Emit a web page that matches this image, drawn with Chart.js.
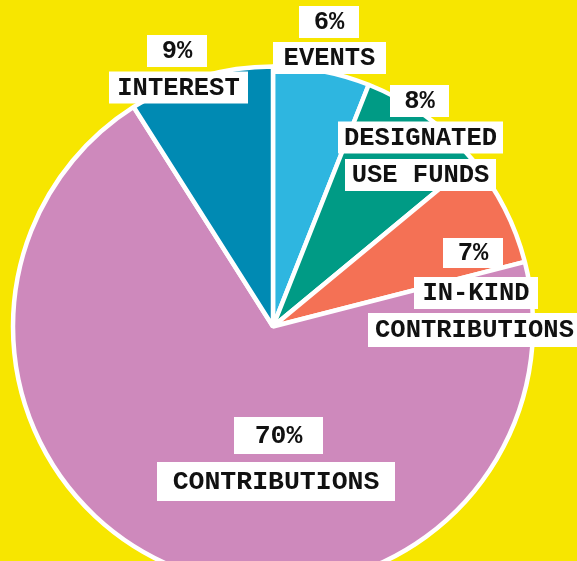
<!DOCTYPE html>
<html>
<head>
<meta charset="utf-8">
<script src="https://cdn.jsdelivr.net/npm/chart.js@4"></script>
<style>
  html, body { margin: 0; padding: 0; background: #F7E600; }
  #wrap { width: 577px; height: 561px; overflow: hidden; position: relative; background: #F7E600; }
  canvas { display: block; }
</style>
</head>
<body>
<div id="wrap"><canvas id="c" width="577" height="652"></canvas></div>
<script>
// ---- data ----
const categories = ["EVENTS", "DESIGNATED USE FUNDS", "IN-KIND CONTRIBUTIONS", "CONTRIBUTIONS", "INTEREST"];
const categoryLines = [["EVENTS"], ["DESIGNATED", "USE FUNDS"], ["IN-KIND", "CONTRIBUTIONS"], ["CONTRIBUTIONS"], ["INTEREST"]];
const values = [6, 8, 7, 70, 9];
const colors = ["#2EB6E0", "#009B85", "#F47155", "#CE89BC", "#008AB3"];

// ---- label layout (code-side positions) ----
const labelLayout = [
  { boxes: [ {x:329, y:22, w:60, h:32, size:25.5}, {x:329.5, y:58, w:113, h:32, size:25.5} ] },
  { boxes: [ {x:419.5, y:101, w:59, h:32, size:25.5}, {x:420.5, y:137.5, w:165, h:32, size:25.5}, {x:420.5, y:175, w:151, h:32, size:25.5} ] },
  { boxes: [ {x:473, y:253, w:60, h:30, size:25.5}, {x:476, y:293, w:124, h:32, size:25.5}, {x:474.5, y:330, w:214, h:34, size:25.5, left:368} ] },
  { boxes: [ {x:278.5, y:435.5, w:89, h:37, size:26.5}, {x:276, y:481.5, w:238, h:39, size:26.5} ] },
  { boxes: [ {x:177, y:51, w:60, h:32, size:25.5}, {x:178.5, y:87.5, w:139, h:32, size:25.5} ] }
];

const labelPlugin = {
  id: 'boxLabels',
  afterDraw(chart) {
    const ctx = chart.ctx;
    ctx.save();
    values.forEach((v, i) => {
      const texts = [v + "%"].concat(categoryLines[i]);
      const boxes = labelLayout[i].boxes;
      texts.forEach((t, j) => {
        const b = boxes[j];
        ctx.fillStyle = "#FFFFFF";
        const left = (b.left !== undefined) ? b.left : b.x - b.w / 2;
        ctx.fillRect(left, b.y - b.h / 2, b.w, b.h);
        ctx.fillStyle = "#111111";
        ctx.font = "bold " + b.size + "px 'Liberation Mono', 'Courier New', monospace";
        ctx.textAlign = "center";
        ctx.textBaseline = "middle";
        ctx.fillText(t, b.x, b.y + 1);
      });
    });
    ctx.restore();
  }
};

new Chart(document.getElementById('c'), {
  type: 'pie',
  data: {
    labels: categories,
    datasets: [{
      data: values,
      backgroundColor: colors,
      borderColor: "#FFFFFF",
      borderWidth: 4.5
    }]
  },
  options: {
    responsive: false,
    animation: false,
    devicePixelRatio: 1,
    radius: 260,
    layout: { padding: { left: 0, right: 31, top: 1, bottom: 0 } },
    plugins: { legend: { display: false }, tooltip: { enabled: false } }
  },
  plugins: [labelPlugin]
});
</script>
</body>
</html>
